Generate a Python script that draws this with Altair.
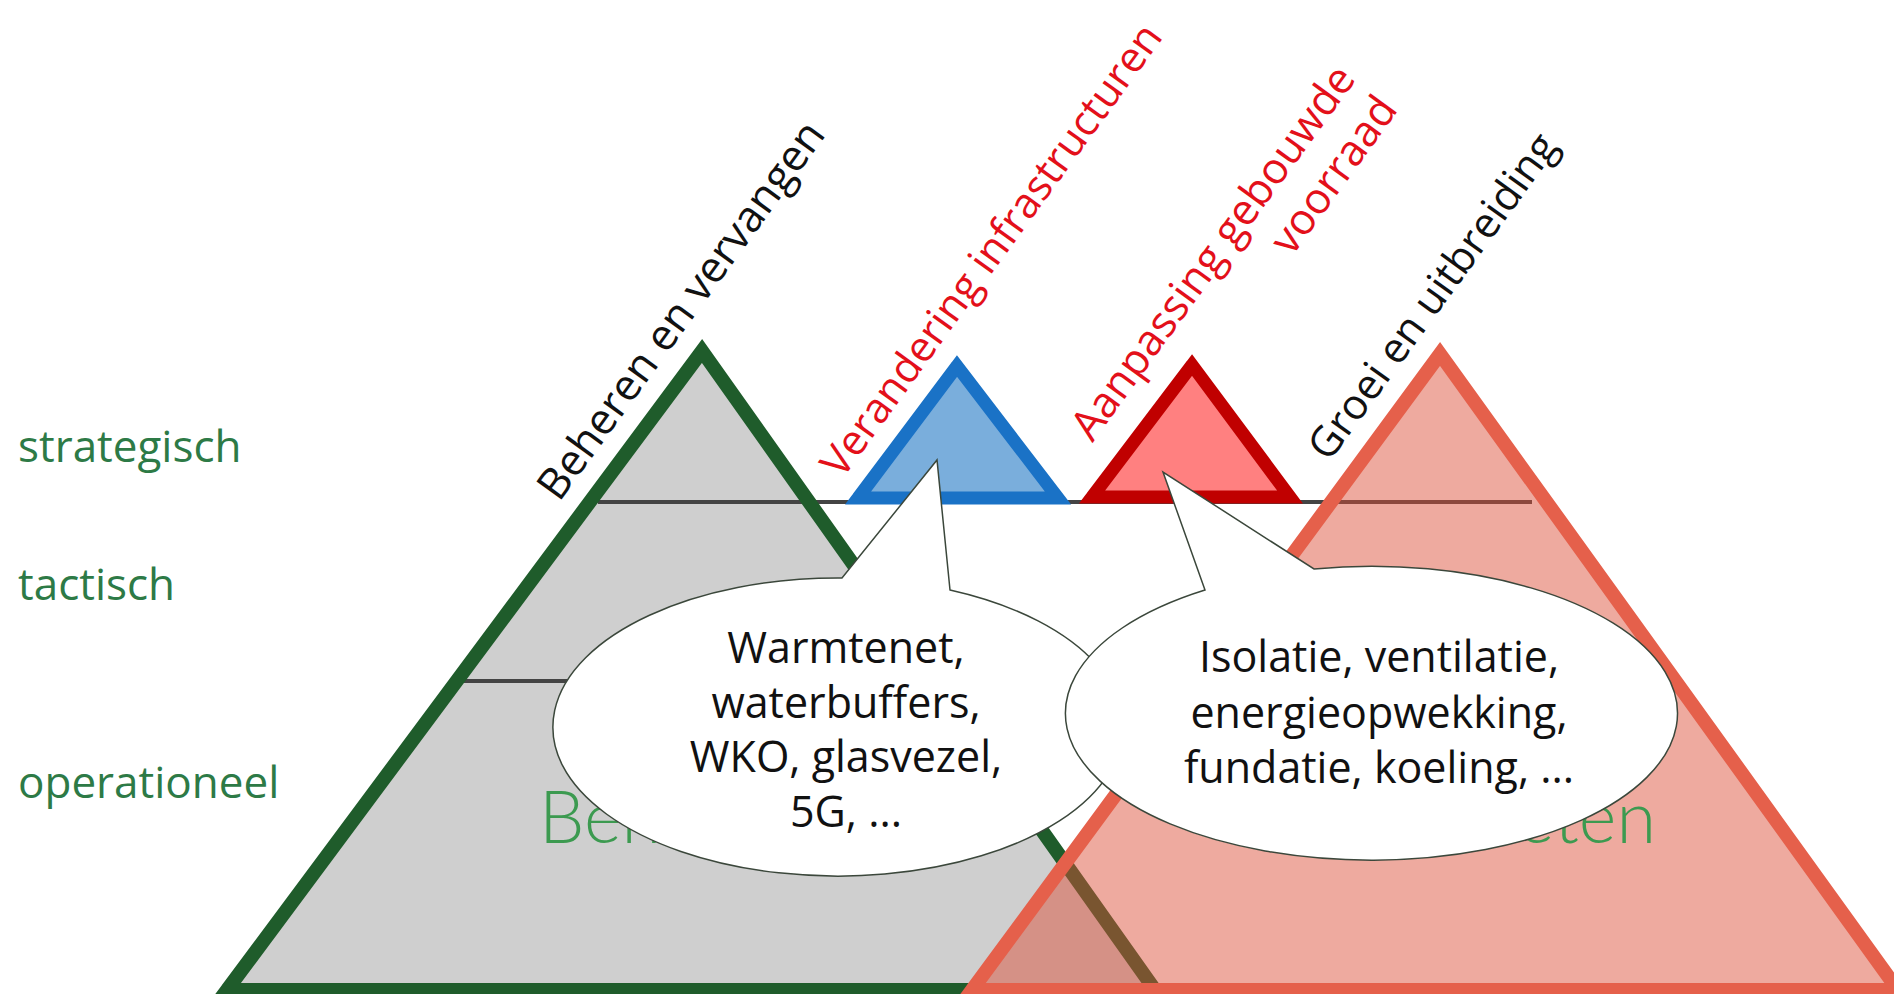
import altair as alt
import pandas as pd

W, H = 1886, 986
X0, Y0 = 8, 8

# ---- triangle vertices (left, apex, right), picture pixels ----
green_x = [227, 702, 1155]
green_y = [990, 351, 990]
blue_x = [858, 957, 1058]
blue_y = [498, 366, 498]
red_x = [1092, 1192, 1290]
red_y = [497, 365, 497]
salmon_x = [972, 1440, 1898]
salmon_y = [990, 354, 990]

# ---- level separator lines ----
level_line_y = [502, 681]
level_line_x0 = [598, 462]
level_line_x1 = [1532, 640]

# ---- level labels ----
levels = ["strategisch", "tactisch", "operationeel"]
level_label_x = [18, 18, 18]
level_label_y = [462, 600, 798]

# ---- rotated category labels ----
cat_left = ["Beheren en vervangen", "Verandering infrastructuren", "Groei en uitbreiding"]
cat_left_x = [559, 842, 1329]
cat_left_y = [503, 480, 463]
cat_left_size = [43.3, 42, 42]
cat_left_color = ["#111111", "#e3101a", "#111111"]
cat_two_lines = ["Aanpassing gebouwde", "voorraad"]
cat_two_x = [1357]
cat_two_y = [79]

# ---- faint background words (mostly hidden behind the bubbles) ----
faint_left = ["Beheer"]
faint_left_x = [539]
faint_right = ["eten"]
faint_right_x = [1656]
faint_y = [843]

# ---- speech bubbles ----
bubble_x = [837, 1381]
bubble_y = [726, 711]
bubble_left_text = ["Warmtenet,", "waterbuffers,", "WKO, glasvezel,", "5G, ..."]
bubble_right_text = ["Isolatie, ventilatie,", "energieopwekking,", "fundatie, koeling, ..."]
bubble_text_x = [846, 1379]
bubble_text_y = [663, 672]

xs = alt.Scale(domain=[X0, X0 + W], nice=False, zero=False)
ys = alt.Scale(domain=[Y0, Y0 + H], nice=False, zero=False, reverse=True)


def X(f="x"):
    return alt.X(f"{f}:Q", scale=xs, axis=None)


def Y(f="y"):
    return alt.Y(f"{f}:Q", scale=ys, axis=None)


def tri_fill(xv, yv, color, op=1.0):
    df = pd.DataFrame({"x": xv, "y": yv, "base": [yv[0]] * 3})
    return alt.Chart(df).mark_area(color=color, fillOpacity=op).encode(
        x=X(), y=Y(), y2="base:Q"
    )


def tri_stroke(xv, yv, color, width):
    idx = [0, 1, 2, 0, 1]
    df = pd.DataFrame({"x": [xv[i] for i in idx], "y": [yv[i] for i in idx], "o": list(range(5))})
    return alt.Chart(df).mark_line(
        color=color, strokeWidth=width, strokeJoin="miter", strokeCap="butt", strokeMiterLimit=10
    ).encode(x=X(), y=Y(), order="o:Q")


lines_df = pd.DataFrame({"x": level_line_x0, "x2": level_line_x1, "y": level_line_y})
level_lines = alt.Chart(lines_df).mark_rule(color="#444444", strokeWidth=4).encode(
    x=X(), x2="x2:Q", y=Y()
)

labels_df = pd.DataFrame({"x": level_label_x, "y": level_label_y, "t": levels})
level_labels = alt.Chart(labels_df).mark_text(
    align="left", baseline="alphabetic", font="Open Sans", fontSize=44, color="#2d7a46"
).encode(x=X(), y=Y(), text="t:N")

cat_df = pd.DataFrame({"x": cat_left_x, "y": cat_left_y, "t": cat_left,
                       "c": cat_left_color, "s": cat_left_size})
cat_labels = alt.Chart(cat_df).mark_text(
    align="left", baseline="alphabetic", font="Open Sans", angle=306
).encode(
    x=X(), y=Y(), text="t:N",
    color=alt.Color("c:N", scale=None),
    size=alt.Size("s:Q", scale=None),
)

two_df = pd.DataFrame({"x": cat_two_x, "y": cat_two_y})
cat_two = alt.Chart(two_df).mark_text(
    text=cat_two_lines, align="right", baseline="alphabetic", font="Open Sans", fontSize=43,
    angle=306, lineHeight=52, color="#e3101a"
).encode(x=X(), y=Y())

fl_df = pd.DataFrame({"x": faint_left_x, "y": faint_y, "t": faint_left})
fr_df = pd.DataFrame({"x": faint_right_x, "y": faint_y, "t": faint_right})
faint_l = alt.Chart(fl_df).mark_text(
    align="left", baseline="alphabetic", font="Lato", fontWeight=300, fontSize=72, color="#3c9a50"
).encode(x=X(), y=Y(), text="t:N")
faint_r = alt.Chart(fr_df).mark_text(
    align="right", baseline="alphabetic", font="Lato", fontWeight=300, fontSize=72, color="#3c9a50"
).encode(x=X(), y=Y(), text="t:N")

left_shape = "M 0.3965 -0.4772 A 1 0.523 0 1 1 0.0175 -0.5193 L 0.3509 -0.9333 Z"
right_shape = "M -0.2190 -0.4641 A 1 0.48 0 1 1 -0.5752 -0.3954 L -0.7124 -0.7810 Z"

bl_df = pd.DataFrame({"x": bubble_x[:1], "y": bubble_y[:1]})
br_df = pd.DataFrame({"x": bubble_x[1:], "y": bubble_y[1:]})
bubble_l = alt.Chart(bl_df).mark_point(
    shape=left_shape, size=570 * 570, filled=True, fill="white", stroke="#3b473b",
    strokeWidth=1.5, opacity=1, strokeJoin="miter"
).encode(x=X(), y=Y())
bubble_r = alt.Chart(br_df).mark_point(
    shape=right_shape, size=612 * 612, filled=True, fill="white", stroke="#3b473b",
    strokeWidth=1.5, opacity=1, strokeJoin="miter"
).encode(x=X(), y=Y())

tl_df = pd.DataFrame({"x": bubble_text_x[:1], "y": bubble_text_y[:1]})
tr_df = pd.DataFrame({"x": bubble_text_x[1:], "y": bubble_text_y[1:]})
text_l = alt.Chart(tl_df).mark_text(
    text=bubble_left_text, align="center", baseline="alphabetic", font="Open Sans",
    fontSize=43, lineHeight=54.5, color="#111111"
).encode(x=X(), y=Y())
text_r = alt.Chart(tr_df).mark_text(
    text=bubble_right_text, align="center", baseline="alphabetic", font="Open Sans",
    fontSize=43, lineHeight=55.5, color="#111111"
).encode(x=X(), y=Y())

chart = alt.layer(
    tri_fill(green_x, green_y, "#cfcfcf"),
    level_lines,
    tri_stroke(green_x, green_y, "#1f5c2b", 14),
    tri_fill(blue_x, blue_y, "#7aaedc"),
    tri_stroke(blue_x, blue_y, "#1a72c6", 13),
    tri_fill(red_x, red_y, "#ff8080"),
    tri_stroke(red_x, red_y, "#c00000", 13),
    tri_fill(salmon_x, salmon_y, "#dc4e37", 0.48),
    tri_stroke(salmon_x, salmon_y, "#e5604b", 14),
    faint_l,
    faint_r,
    bubble_l,
    bubble_r,
    text_l,
    text_r,
    level_labels,
    cat_labels,
    cat_two,
).properties(
    width=W, height=H, padding=0, autosize=alt.AutoSizeParams(type="none"), background="white"
).configure_view(stroke=None)

chart.save("out.html", embed_options={"renderer": "svg", "actions": False})
